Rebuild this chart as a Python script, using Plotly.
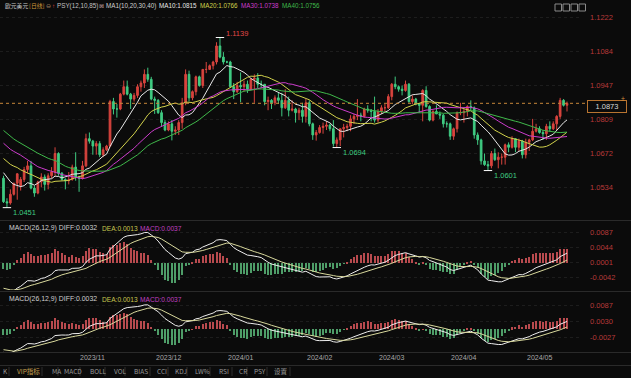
import pandas as pd
import plotly.graph_objects as go

# ---------------- data (EUR/USD daily) ----------------
# closes before the visible window (used only to warm up MA / MACD)
warmup_close = [
    1.0910, 1.0880, 1.0855, 1.0890, 1.0970, 1.0970, 1.1010, 1.1130, 1.1225, 1.1230, 1.1235,
    1.1225, 1.1200, 1.1130, 1.1125, 1.1065, 1.1055, 1.1085, 1.0975, 1.1015, 1.0995,
    1.0985, 1.0940, 1.0945, 1.1005, 1.1000, 1.0955, 1.0975, 1.0980, 1.0950, 1.0905, 1.0905,
    1.0875, 1.0875, 1.0870, 1.0895, 1.0845, 1.0865, 1.0810, 1.0795, 1.0815, 1.0880, 1.0925, 1.0845,
    1.0775, 1.0795, 1.0725, 1.0725, 1.0695, 1.0700, 1.0750, 1.0755, 1.0730, 1.0640, 1.0660,
    1.0690, 1.0680, 1.0660, 1.0660, 1.0645, 1.0595, 1.0570, 1.0500, 1.0565, 1.0575,
]

open_ = [
    1.0570, 1.0475, 1.0470, 1.0505, 1.0550, 1.0540, 1.0565, 1.0605, 1.0620, 1.0530, 1.0510, 1.0555, 1.0575, 1.0545, 1.0580, 1.0595, 1.0670, 1.0590, 1.0565, 1.0560, 1.0565, 1.0615,
    1.0575, 1.0570, 1.0620, 1.0730, 1.0720, 1.0700, 1.0710, 1.0665, 1.0685, 1.0700, 1.0880, 1.0850, 1.0850, 1.0910, 1.0940, 1.0910, 1.0890, 1.0905, 1.0940, 1.0955, 1.0990, 1.0970,
    1.0890, 1.0885, 1.0835, 1.0795, 1.0765, 1.0790, 1.0760, 1.0765, 1.0795, 1.0875, 1.0990, 1.0895, 1.0920, 1.0980, 1.0945, 1.1010, 1.1010, 1.1025, 1.1040, 1.1105, 1.1060,
    1.1040, 1.1040, 1.0940, 1.0920, 1.0945, 1.0940, 1.0950, 1.0930, 1.0970, 1.0975, 1.0950, 1.0950, 1.0880, 1.0885, 1.0875, 1.0895, 1.0885, 1.0855, 1.0885, 1.0845, 1.0850, 1.0835, 1.0845,
    1.0820, 1.0875, 1.0790, 1.0745, 1.0755, 1.0775, 1.0780, 1.0785, 1.0770, 1.0710, 1.0725, 1.0770, 1.0775, 1.0780, 1.0810, 1.0820, 1.0825, 1.0820, 1.0850, 1.0845, 1.0840,
    1.0805, 1.0840, 1.0855, 1.0855, 1.0900, 1.0950, 1.0940, 1.0930, 1.0925, 1.0950, 1.0880, 1.0890, 1.0870, 1.0865, 1.0925, 1.0860, 1.0805, 1.0840, 1.0830, 1.0825, 1.0790,
    1.0790, 1.0740, 1.0770, 1.0835, 1.0835, 1.0840, 1.0860, 1.0855, 1.0745, 1.0725, 1.0640, 1.0625, 1.0620, 1.0670, 1.0645, 1.0655, 1.0655, 1.0705, 1.0695, 1.0730, 1.0695, 1.0720,
    1.0665, 1.0715, 1.0725, 1.0760, 1.0770, 1.0755, 1.0750, 1.0780, 1.0770, 1.0790, 1.0820, 1.0885, 1.0865,
]
high = [
    1.0580, 1.0489, 1.0525, 1.0550, 1.0590, 1.0575, 1.0616, 1.0640, 1.0640, 1.0540, 1.0560, 1.0590, 1.0585, 1.0590, 1.0615, 1.0695, 1.0675, 1.0595, 1.0570, 1.0595, 1.0625, 1.0675,
    1.0580, 1.0640, 1.0750, 1.0755, 1.0725, 1.0720, 1.0720, 1.0695, 1.0705, 1.0887, 1.0895, 1.0870, 1.0915, 1.0965, 1.0965, 1.0915, 1.0915, 1.0950, 1.0965, 1.1010, 1.1017, 1.0980,
    1.0900, 1.0890, 1.0845, 1.0805, 1.0800, 1.0805, 1.0780, 1.0805, 1.0895, 1.1010, 1.1005, 1.0925, 1.0985, 1.0985, 1.1010, 1.1040, 1.1030, 1.1045, 1.1120, 1.1139, 1.1080,
    1.1045, 1.1045, 1.0955, 1.0960, 1.0998, 1.0965, 1.0965, 1.0975, 1.0990, 1.0995, 1.0965, 1.0950, 1.0900, 1.0890, 1.0905, 1.0915, 1.0915, 1.0930, 1.0900, 1.0885, 1.0855, 1.0855, 1.0875,
    1.0890, 1.0885, 1.0795, 1.0765, 1.0785, 1.0795, 1.0800, 1.0790, 1.0805, 1.0735, 1.0770, 1.0790, 1.0790, 1.0825, 1.0830, 1.0890, 1.0835, 1.0855, 1.0865, 1.0850, 1.0900,
    1.0850, 1.0865, 1.0870, 1.0910, 1.0955, 1.0981, 1.0945, 1.0945, 1.0965, 1.0955, 1.0905, 1.0895, 1.0875, 1.0930, 1.0942, 1.0865, 1.0845, 1.0865, 1.0840, 1.0830, 1.0800,
    1.0795, 1.0775, 1.0840, 1.0875, 1.0850, 1.0865, 1.0885, 1.0860, 1.0755, 1.0730, 1.0670, 1.0640, 1.0680, 1.0690, 1.0675, 1.0670, 1.0710, 1.0715, 1.0740, 1.0730, 1.0730, 1.0725,
    1.0730, 1.0730, 1.0810, 1.0790, 1.0780, 1.0765, 1.0790, 1.0800, 1.0800, 1.0825, 1.0895, 1.0890, 1.0880,
]
low = [
    1.0470, 1.0451, 1.0463, 1.0500, 1.0483, 1.0520, 1.0555, 1.0590, 1.0525, 1.0495, 1.0505, 1.0533, 1.0520, 1.0525, 1.0570, 1.0580, 1.0580, 1.0560, 1.0525, 1.0545, 1.0560, 1.0560,
    1.0515, 1.0565, 1.0615, 1.0710, 1.0665, 1.0665, 1.0655, 1.0655, 1.0680, 1.0695, 1.0828, 1.0815, 1.0845, 1.0905, 1.0905, 1.0850, 1.0880, 1.0895, 1.0920, 1.0935, 1.0960, 1.0885,
    1.0830, 1.0830, 1.0780, 1.0760, 1.0760, 1.0723, 1.0745, 1.0745, 1.0770, 1.0865, 1.0880, 1.0885, 1.0905, 1.0940, 1.0935, 1.0995, 1.1010, 1.1010, 1.1030, 1.1055, 1.1030,
    1.1035, 1.0940, 1.0890, 1.0915, 1.0877, 1.0920, 1.0915, 1.0925, 1.0875, 1.0935, 1.0935, 1.0865, 1.0845, 1.0850, 1.0865, 1.0870, 1.0820, 1.0850, 1.0820, 1.0840, 1.0795, 1.0805, 1.0795,
    1.0795, 1.0780, 1.0725, 1.0722, 1.0750, 1.0750, 1.0765, 1.0760, 1.0698, 1.0694, 1.0700, 1.0735, 1.0760, 1.0760, 1.0790, 1.0805, 1.0800, 1.0815, 1.0835, 1.0800, 1.0795,
    1.0795, 1.0830, 1.0835, 1.0850, 1.0885, 1.0930, 1.0920, 1.0905, 1.0920, 1.0875, 1.0870, 1.0865, 1.0835, 1.0800, 1.0855, 1.0800, 1.0800, 1.0830, 1.0810, 1.0775, 1.0775,
    1.0725, 1.0725, 1.0755, 1.0825, 1.0795, 1.0820, 1.0845, 1.0730, 1.0705, 1.0625, 1.0620, 1.0601, 1.0610, 1.0640, 1.0610, 1.0625, 1.0625, 1.0675, 1.0690, 1.0675, 1.0680, 1.0650,
    1.0650, 1.0680, 1.0720, 1.0755, 1.0750, 1.0725, 1.0725, 1.0760, 1.0765, 1.0765, 1.0810, 1.0860, 1.0840,
]
close = [
    1.0475, 1.0470, 1.0505, 1.0550, 1.0588, 1.0565, 1.0605, 1.0620, 1.0530, 1.0510, 1.0555, 1.0575, 1.0545, 1.0580, 1.0595, 1.0670, 1.0590, 1.0565, 1.0560, 1.0565, 1.0615, 1.0575,
    1.0570, 1.0620, 1.0730, 1.0720, 1.0700, 1.0710, 1.0665, 1.0685, 1.0700, 1.0880, 1.0850, 1.0850, 1.0910, 1.0940, 1.0910, 1.0890, 1.0905, 1.0940, 1.0955, 1.0990, 1.0970, 1.0890,
    1.0885, 1.0835, 1.0795, 1.0765, 1.0790, 1.0760, 1.0765, 1.0795, 1.0875, 1.0990, 1.0895, 1.0920, 1.0980, 1.0945, 1.1010, 1.1010, 1.1025, 1.1040, 1.1105, 1.1060, 1.1040,
    1.1040, 1.0940, 1.0920, 1.0945, 1.0940, 1.0950, 1.0930, 1.0970, 1.0975, 1.0950, 1.0950, 1.0880, 1.0885, 1.0875, 1.0895, 1.0885, 1.0855, 1.0885, 1.0845, 1.0850, 1.0835, 1.0845, 1.0820,
    1.0875, 1.0790, 1.0745, 1.0755, 1.0775, 1.0780, 1.0785, 1.0770, 1.0710, 1.0725, 1.0770, 1.0775, 1.0780, 1.0810, 1.0820, 1.0825, 1.0820, 1.0850, 1.0845, 1.0840, 1.0805,
    1.0840, 1.0855, 1.0855, 1.0900, 1.0950, 1.0940, 1.0930, 1.0925, 1.0950, 1.0880, 1.0890, 1.0870, 1.0865, 1.0925, 1.0860, 1.0805, 1.0840, 1.0830, 1.0825, 1.0790, 1.0790,
    1.0740, 1.0770, 1.0835, 1.0835, 1.0840, 1.0860, 1.0855, 1.0745, 1.0725, 1.0640, 1.0625, 1.0620, 1.0670, 1.0645, 1.0655, 1.0655, 1.0705, 1.0695, 1.0730, 1.0695, 1.0720, 1.0665,
    1.0715, 1.0725, 1.0760, 1.0770, 1.0755, 1.0750, 1.0780, 1.0770, 1.0790, 1.0820, 1.0885, 1.0865, 1.0873,
]

start_date = "2023-10-02"
month_labels = ["2023/11", "2023/12", "2024/01", "2024/02", "2024/03", "2024/04", "2024/05"]
month_starts = ["2023-11-01", "2023-12-01", "2024-01-01", "2024-02-01", "2024-03-01", "2024-04-01", "2024-05-01"]
price_ticks = [1.1222, 1.1084, 1.0947, 1.0809, 1.0672, 1.0534]
macd1_ticks = [0.0087, 0.0044, 0.0001, -0.0042]
macd2_ticks = [0.0087, 0.0030, -0.0027]
last_price = 1.0873
marked_points = [("2023-12-28", "high"), ("2023-10-03", "low"), ("2024-02-14", "low"), ("2024-04-16", "low")]
ma_periods = [10, 20, 30, 40]
ma_labels = ["MA10:1.0815", "MA20:1.0766", "MA30:1.0738", "MA40:1.0756"]
macd_labels = ["MACD(26,12,9) DIFF:0.0032", "DEA:0.0013", "MACD:0.0037"]
toolbar_items = ["K", "VIP指标", "MA", "MACD", "BOLL", "VOL", "BIAS", "CCI", "KDJ", "LW%", "RSI", "CR", "PSY", "设置"]

# ---------------- styling ----------------
BG = "#0b0b0b"
UP = "#d8443e"
DN = "#3fcb82"
AXIS_RED = "#b83a3a"
MA_COLORS = ["#e8e8e8", "#d2d24c", "#cc3ccc", "#3fb84a"]
LATIN = "Liberation Sans, Arial, sans-serif"
CJK = "Noto Sans CJK SC, sans-serif"

W, H = 631, 378
PLOT_R = 582          # right edge of the plotting area (px)
X0, DX = 3.5, 3.436   # pixel position of bar 0 and bar spacing


def px(x):
    return x / PLOT_R


def py(y):
    return 1 - y / H


def ydom(top, bot):
    return [py(bot), py(top)]


n = len(close)
dates = pd.bdate_range(start_date, periods=n).strftime("%Y-%m-%d").tolist()
xi = list(range(n))

full = pd.Series(warmup_close + close)
nw = len(warmup_close)
mas = [full.rolling(p).mean().iloc[nw:].tolist() for p in ma_periods]
ema_fast = full.ewm(span=12, adjust=False).mean()
ema_slow = full.ewm(span=26, adjust=False).mean()
diff = ema_fast - ema_slow
dea = diff.ewm(span=9, adjust=False).mean()
hist = 2 * (diff - dea)
diff_v = diff.iloc[nw:].tolist()
dea_v = dea.iloc[nw:].tolist()
hist_v = hist.iloc[nw:].tolist()
bar_cols = ["#b84a4e" if v >= 0 else "#4e9d68" for v in hist_v]

fig = go.Figure()
fig.add_trace(go.Candlestick(
    x=xi, open=open_, high=high, low=low, close=close,
    increasing=dict(line=dict(color=UP, width=1), fillcolor=UP),
    decreasing=dict(line=dict(color=DN, width=1), fillcolor=DN),
    whiskerwidth=0, hoverinfo="skip", xaxis="x", yaxis="y"))
for vals, col in zip(mas, MA_COLORS):
    fig.add_trace(go.Scatter(x=xi, y=vals, mode="lines", line=dict(color=col, width=1),
                             hoverinfo="skip", xaxis="x", yaxis="y"))

# extreme markers + labels
annotations = []
for d, kind in marked_points:
    i = dates.index(d)
    v = high[i] if kind == "high" else low[i]
    fig.add_trace(go.Scatter(x=[i], y=[v], mode="markers",
                             marker=dict(symbol="line-ew", size=6, line=dict(color="#ffffff", width=1)),
                             hoverinfo="skip", xaxis="x", yaxis="y"))
    annotations.append(dict(
        x=i, y=v, xref="x", yref="y", text=f"{v:.4f}", showarrow=False,
        xanchor="left", yanchor="middle", xshift=4, yshift=4 if kind == "high" else -5,
        font=dict(family=LATIN, size=7.5, color="#e04848" if kind == "high" else "#3fcb82")))

# MACD panels
for yax in ("y2", "y3"):
    fig.add_trace(go.Bar(x=xi, y=hist_v, marker=dict(color=bar_cols, line=dict(width=0)),
                         width=0.3, hoverinfo="skip", xaxis="x", yaxis=yax))
    fig.add_trace(go.Scatter(x=xi, y=diff_v, mode="lines", line=dict(color="#eeeeee", width=1),
                             hoverinfo="skip", xaxis="x", yaxis=yax))
    fig.add_trace(go.Scatter(x=xi, y=dea_v, mode="lines", line=dict(color="#d8d89c", width=1),
                             hoverinfo="skip", xaxis="x", yaxis=yax))


def yaxis_cfg(domain, rng, ticks, fmt):
    return dict(domain=domain, range=rng, side="right", anchor="x",
                tickvals=ticks, ticktext=[fmt.format(t) for t in ticks],
                tickfont=dict(family=LATIN, size=7.5, color=AXIS_RED),
                ticks="", ticklabelstandoff=7, showgrid=True, gridcolor="#1d1d1d",
                griddash="dot", gridwidth=1, zeroline=False, showline=False, fixedrange=True)


# pixel geometry of panels (px rows) -> value ranges
main_top, main_bot = 10, 219
p_per_px = 0.01375 / 34.0
main_rng = [1.1222 - (main_bot - 17) * p_per_px, 1.1222 + (17 - main_top) * p_per_px]
m1_top, m1_bot = 221, 290
m1_k = 0.0043 / 15.0
m1_rng = [0.0001 - (m1_bot - 262.7) * m1_k, 0.0001 + (262.7 - m1_top) * m1_k]
m2_top, m2_bot = 292, 352
m2_k = 0.0057 / 16.0
m2_rng = [0.0030 - (m2_bot - 321) * m2_k, 0.0030 + (321 - m2_top) * m2_k]

x_rng = [-X0 / DX, (PLOT_R - X0) / DX]


def txt(x, y, s, color, size=7, family=LATIN, **kw):
    d = dict(x=px(x), y=py(y), xref="paper", yref="paper", text=s, showarrow=False,
             xanchor="left", yanchor="middle", font=dict(family=family, size=size, color=color))
    d.update(kw)
    return d


# header row
HS = 6.3
annotations += [
    txt(3, 6, "欧元美元", "#c8c8c8", 5.8, CJK),
    txt(26.5, 6, "[日线]", "#d49a3a", 5.8, CJK),
    txt(44, 6, "⊖", "#a08060", 6),
    txt(50, 6, "↑", "#e04040", 6),
    txt(55, 6, "PSY(12,10,85)", "#c0c0c0", HS),
    txt(97, 6, "⊠", "#c0a0a0", 6),
    txt(104, 6, "MA1(10,20,30,40)", "#d0d0d0", HS),
]
ma_x = [157, 198, 239, 280]
for xx, s, col in zip(ma_x, ma_labels, MA_COLORS):
    annotations.append(txt(xx, 6, s, col, HS))

for yy in (228, 299):
    annotations += [
        txt(7, yy, macd_labels[0], "#d0d0d0", 6.9),
        txt(100, yy, macd_labels[1], "#c8c850", 6.6),
        txt(138, yy, macd_labels[2], "#c040c0", 6.6),
    ]

# month labels (left aligned at first bar of month)
for lab, d in zip(month_labels, month_starts):
    i = dates.index(d)
    annotations.append(dict(x=i - 0.3, y=py(357), xref="x", yref="paper", text=lab, showarrow=False,
                            xanchor="left", yanchor="middle",
                            font=dict(family=LATIN, size=7, color="#a8a8a8")))

# toolbar
tb_x = [1, 15, 50, 62, 88, 112, 132, 155, 173, 193, 217, 237, 252, 272]
tb_sep = [9, 42, 58, 80, 105, 125, 150, 168, 187, 210, 232, 247, 267, 290]
for xx, s in zip(tb_x, toolbar_items):
    annotations.append(txt(xx, 371, s, "#c8a050" if s == "VIP指标" else "#9a9a9a", 6.5, CJK))

# last price box + marker
annotations.append(dict(x=px(607), y=py(106), xref="paper", yref="paper", text=f"{last_price:.4f}",
                        showarrow=False, xanchor="center", yanchor="middle",
                        font=dict(family=LATIN, size=7.5, color="#d8d8d8"),
                        bordercolor="#b87430", borderwidth=1, borderpad=1, bgcolor=BG,
                        width=36, height=9))
annotations.append(txt(619, 99, "±", "#d08a3a", 7))

shapes = [
    dict(type="line", xref="paper", yref="y", x0=0, x1=px(622), y0=last_price, y1=last_price,
         line=dict(color="#c8873a", width=1, dash="dot")),
]
for yy in (220.5, 291.5, 352.5, 365.5):
    shapes.append(dict(type="line", xref="paper", yref="paper", x0=0, x1=px(W), y0=py(yy), y1=py(yy),
                       line=dict(color="#2a2a2a", width=1)))
for xx in tb_sep:
    shapes.append(dict(type="line", xref="paper", yref="paper", x0=px(xx), x1=px(xx), y0=py(367), y1=py(376),
                       line=dict(color="#2e2e2e", width=1)))
for xx in (555, 563, 571, 579):
    shapes.append(dict(type="rect", xref="paper", yref="paper", x0=px(xx), x1=px(xx + 6.5),
                       y0=py(11), y1=py(4), line=dict(color="#8a8a8a", width=1)))

fig.update_layout(
    width=W, height=H, margin=dict(l=0, r=W - PLOT_R, t=0, b=0),
    paper_bgcolor=BG, plot_bgcolor=BG, showlegend=False, bargap=0,
    xaxis=dict(range=x_rng, showticklabels=False, showgrid=False, zeroline=False, showline=False,
               ticks="", rangeslider=dict(visible=False), fixedrange=True),
    yaxis=yaxis_cfg(ydom(main_top, main_bot), main_rng, price_ticks, "{:.4f}"),
    yaxis2=yaxis_cfg(ydom(m1_top, m1_bot), m1_rng, macd1_ticks, "{:.4f}"),
    yaxis3=yaxis_cfg(ydom(m2_top, m2_bot), m2_rng, macd2_ticks, "{:.4f}"),
    annotations=annotations, shapes=shapes,
)

fig.write_html("out.html")
